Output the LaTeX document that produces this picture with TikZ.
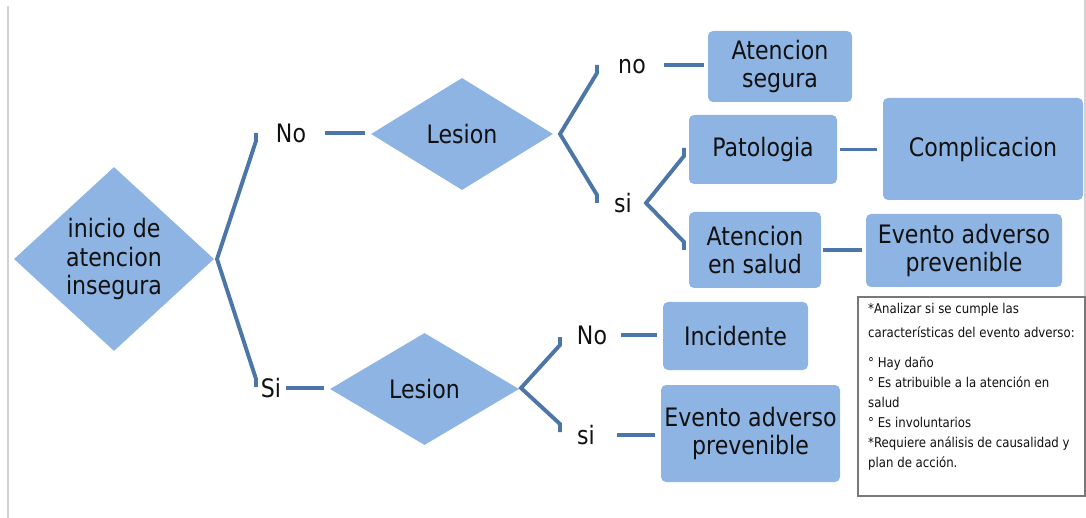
\documentclass[tikz,border=0pt]{standalone}
\usepackage{fontspec}
\setmainfont{DejaVu Sans}[FakeStretch=0.87]
\usetikzlibrary{shapes.geometric,calc}
\definecolor{boxfill}{RGB}{142,180,227}
\definecolor{linkblue}{RGB}{76,117,168}
\definecolor{pageedge}{RGB}{210,210,210}
\definecolor{notegray}{RGB}{120,120,120}
\definecolor{ink}{RGB}{17,17,17}

\begin{document}
\begin{tikzpicture}[x=1pt,y=-1pt,
  big/.style={font=\fontsize{25.4}{28.5}\selectfont, text=ink},
  decision/.style={diamond, fill=boxfill, draw=none, inner sep=0pt},
  outcome/.style={rectangle, rounded corners=5pt, fill=boxfill, draw=none,
    inner sep=0pt, align=center, big},
  answer/.style={inner sep=0pt, big},
  link/.style={draw=linkblue, line width=3.9pt},
  small/.style={font=\fontsize{13.5}{20}\selectfont, text=ink}
]
\useasboundingbox (0,0) rectangle (1086,518);

% page edges
\draw[pageedge, line width=2pt] (8,6) -- (8,518);
\draw[pageedge, line width=1.5pt] (1085,0) -- (1085,297);

% decisions
\node[decision, minimum width=200pt, minimum height=184pt,
  label={[big, align=center]center:{inicio de\\atencion\\insegura}}] (d1) at (114,259) {};
\node[decision, minimum width=182pt, minimum height=112pt,
  label={[big]center:Lesion}] (les1) at (462,134) {};
\node[decision, minimum width=189pt, minimum height=112pt,
  label={[big]center:Lesion}] (les2) at (424.5,389) {};

% answers
\node[answer] (no1) at (291,133) {No};
\node[answer] (si1) at (271,388) {Si};
\node[answer] (no2) at (632,67) {no};
\node[answer] (si2) at (623,203) {si};
\node[answer] (no3) at (592,335) {No};
\node[answer] (si3) at (586,435) {si};

% outcomes
\node[outcome, minimum width=144pt, minimum height=71pt] (seg) at (780,66.5) {Atencion\\segura};
\node[outcome, minimum width=148pt, minimum height=69pt] (pat) at (763,149.5) {Patologia};
\node[outcome, minimum width=200pt, minimum height=102pt] (comp) at (983,149) {Complicacion};
\node[outcome, minimum width=132pt, minimum height=76pt] (aes) at (755,250) {Atencion\\en salud};
\node[outcome, minimum width=196pt, minimum height=73pt] (eap1) at (964,250.5) {Evento adverso\\prevenible};
\node[outcome, minimum width=145pt, minimum height=68pt] (inc) at (735.5,336) {Incidente};
\node[outcome, minimum width=179pt, minimum height=97pt] (eap2) at (750.5,433.5) {Evento adverso\\prevenible};

% branch joints
\coordinate (j1) at (217,259);  \coordinate (t1) at (256,133);  \coordinate (b1) at (256,387);
\coordinate (j2) at (560,134);  \coordinate (t2) at (597,65);   \coordinate (b2) at (597,203);
\coordinate (j3) at (646,203);  \coordinate (t3) at (684,148);  \coordinate (b3) at (684,250);
\coordinate (j4) at (521,388);  \coordinate (t4) at (560,337);  \coordinate (b4) at (560,432);

\foreach \k in {1,2,3,4}{
  \draw[link, line join=miter] (t\k) -- ($(t\k)+(0,8)$) -- (j\k) -- ($(b\k)+(0,-8)$) -- (b\k);
}

% straight links
\draw[link, shorten <=19pt, shorten >=6pt] (no1.east) -- (no1.east -| les1.west);
\draw[link, shorten <=5pt, shorten >=6pt] (si1.east) -- (si1.east -| les2.west);
\draw[link, shorten <=18pt, shorten >=4pt] ($(no2.east)+(0,-2)$) -- ($(no2.east -| seg.west)+(0,-2)$);
\draw[link, shorten <=3pt, shorten >=6pt] (pat.east) -- (pat.east -| comp.west);
\draw[link, shorten <=2pt, shorten >=4pt] (aes.east) -- (aes.east -| eap1.west);
\draw[link, shorten <=14pt, shorten >=6pt] (no3.east) -- (no3.east -| inc.west);
\draw[link, shorten <=22pt, shorten >=6pt] (si3.east) -- (si3.east -| eap2.west);

% note
\node[draw=notegray, line width=1.3pt, fill=white, minimum width=227pt, minimum height=199pt,
  inner sep=0pt] (note) at (971.5,396.5) {};
\node[small, anchor=north west, inner sep=0pt, align=left] (notetext) at (868,303)
  {*Analizar si se cumple las\\[4pt]
   características del evento adverso:\\[10pt]
   ° Hay daño\\
   ° Es atribuible a la atención en\\
   salud\\
   ° Es involuntarios\\
   *Requiere análisis de causalidad y\\
   plan de acción.};
\end{tikzpicture}
\end{document}
